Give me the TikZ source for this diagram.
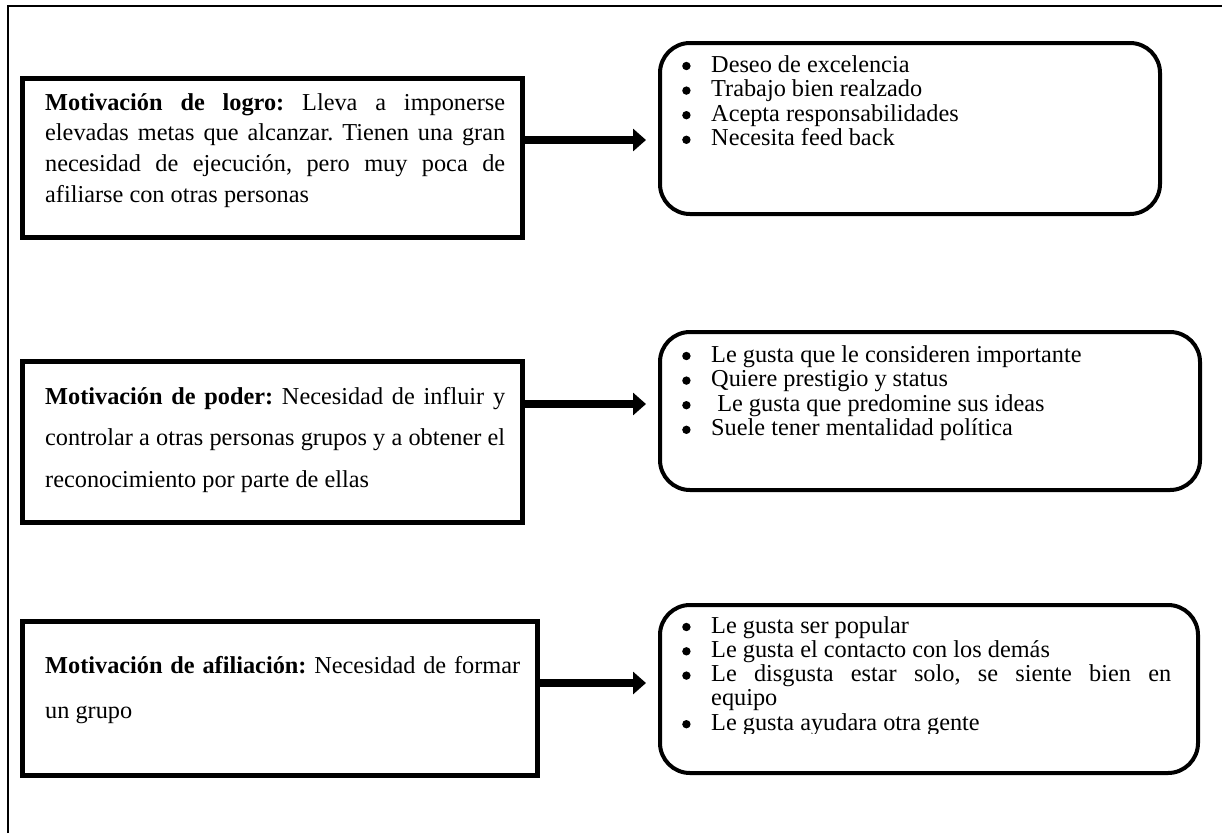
\documentclass[tikz,border=0pt]{standalone}
\usepackage{fontspec}
\setmainfont{Liberation Serif}
\usetikzlibrary{arrows.meta}

% a block of lines set at a fixed baseline distance
\newcommand\linesblock[2]{\vtop{\frenchspacing\baselineskip=#1\lineskiplimit=-50pt\lineskip=0pt #2}}
% a justified line of given width
\newcommand\justline[2]{\hbox to #1{#2}}
% a round list bullet
\newcommand\dotmark{\tikz[baseline=-6pt]\fill (0,0) circle (4.2pt);}
% a bulleted line
\newcommand\bul[1]{\hbox{\hbox to 29pt{\dotmark\hss}#1}}

\begin{document}
\begin{tikzpicture}[x=1pt,y=-1pt,
  catbox/.style={draw, line width=5pt, rectangle, inner sep=0pt},
  traitbox/.style={draw, line width=4pt, rounded corners=30pt, rectangle, inner sep=0pt},
  para/.style={anchor=base west, inner sep=0pt, font=\fontsize{24.3}{24.5}\selectfont},
  conn/.style={line width=8pt, -{Triangle[length=13pt,width=22pt]}, shorten >=12pt}]

\useasboundingbox (0,0) rectangle (1225,833);

% page frame (top and left rule)
\draw[line width=1.5pt] (8,833) -- (8,6) -- (1222,6);

% motivation categories
\node[catbox, minimum width=500pt, minimum height=159pt] (logro) at (272,157.5) {};
\node[catbox, minimum width=500pt, minimum height=161pt] (poder) at (272,441.5) {};
\node[catbox, minimum width=515pt, minimum height=154pt] (afil) at (279.5,698) {};

% trait lists
\node[traitbox, minimum width=500pt, minimum height=171pt] (tlogro) at (910,128.5) {};
\node[traitbox, minimum width=540pt, minimum height=158pt] (tpoder) at (930,411) {};
\node[traitbox, minimum width=538pt, minimum height=168pt] (tafil) at (929,689) {};

% category texts
\node[para] (xlogro) at (45,110) {\linesblock{30.7pt}{%
  \justline{460pt}{\textbf{Motivación de logro:} Lleva a imponerse}
  \justline{460pt}{elevadas metas que alcanzar. Tienen una gran}
  \justline{460pt}{necesidad de ejecución, pero muy poca de}
  \hbox{afiliarse con otras personas}}};

\node[para] (xpoder) at (45,404) {\linesblock{41.5pt}{%
  \justline{460pt}{\textbf{Motivación de poder:} Necesidad de influir y}
  \justline{460pt}{controlar a otras personas grupos y a obtener el}
  \hbox{reconocimiento por parte de ellas}}};

\node[para] (xafil) at (45,673) {\linesblock{45pt}{%
  \justline{475pt}{\textbf{Motivación de afiliación:} Necesidad de formar}
  \hbox{un grupo}}};

% trait texts
\node[para] (ylogro) at (682,72) {\linesblock{24.6pt}{%
  \bul{Deseo de excelencia}
  \bul{Trabajo bien realzado}
  \bul{Acepta responsabilidades}
  \bul{Necesita feed back}}};

\node[para] (ypoder) at (682,362) {\linesblock{24.6pt}{%
  \bul{Le gusta que le consideren importante}
  \bul{Quiere prestigio y status}
  \bul{\ Le gusta que predomine sus ideas}
  \bul{Suele tener mentalidad política}}};

\begin{scope}
  \clip (650,600) rectangle (1210,733);
  \node[para] (yafil) at (682,633) {\linesblock{24.3pt}{%
    \bul{Le gusta ser popular}
    \bul{Le gusta el contacto con los demás}
    \bul{\justline{460pt}{Le disgusta estar solo, se siente bien en}}
    \hbox{\hskip29pt equipo}
    \bul{Le gusta ayudara otra gente}}};
\end{scope}

% connectors
\draw[conn] ([yshift=17.5pt]logro.east) coordinate (c1) -- (c1 -| tlogro.west);
\draw[conn] ([yshift=37.5pt]poder.east) coordinate (c2) -- (c2 -| tpoder.west);
\draw[conn] ([yshift=15pt]afil.east) coordinate (c3) -- (c3 -| tafil.west);

\end{tikzpicture}
\end{document}
